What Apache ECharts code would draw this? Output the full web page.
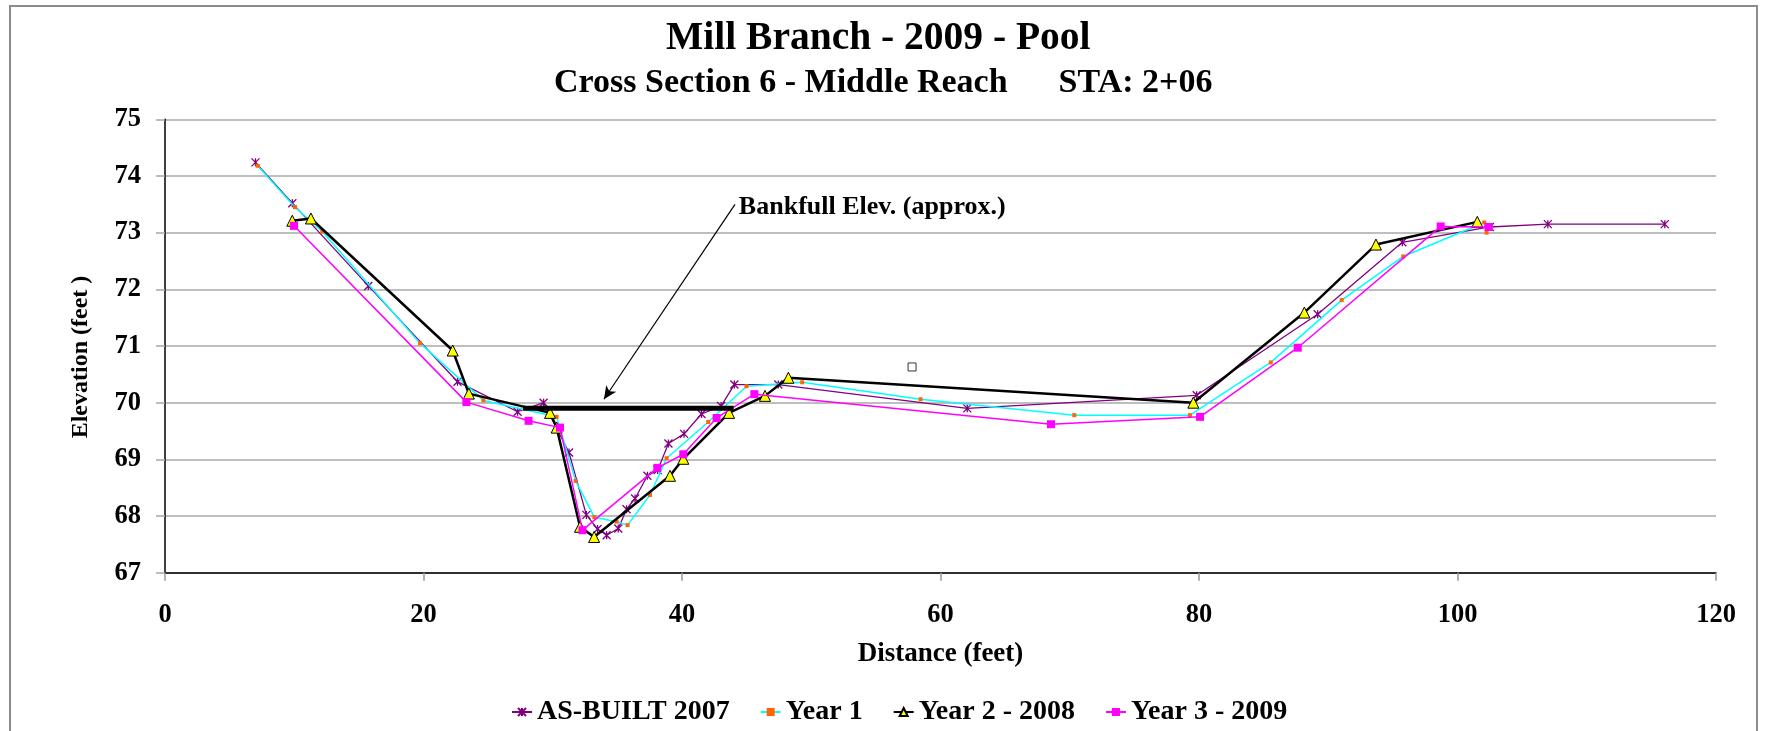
<!DOCTYPE html>
<html>
<head>
<meta charset="utf-8">
<script src="https://cdn.jsdelivr.net/npm/echarts@6/dist/echarts.min.js"></script>
<style>
html,body{margin:0;padding:0;background:#fff;}
#chart{width:1771px;height:731px;}
</style>
</head>
<body>
<div id="chart"></div>
<script>
// ---- data (distance ft, elevation ft) ----
var asBuilt2007 = [[7.0,74.24],[9.85,73.52],[15.73,72.06],[22.63,70.37],[27.28,69.84],[29.29,70.0],[31.26,69.12],[32.6,68.02],[33.47,67.77],[34.17,67.66],[35.07,67.78],[35.71,68.12],[36.37,68.31],[37.32,68.71],[38.12,68.81],[38.95,69.28],[40.16,69.45],[41.51,69.8],[43.02,69.94],[44.05,70.32],[47.45,70.32],[62.07,69.9],[79.82,70.13],[89.18,71.56],[95.73,72.83],[102.5,73.1],[106.99,73.15],[116.04,73.15]];
var year1 = [[7.17,74.18],[10.06,73.45],[12.17,73.02],[19.73,71.05],[24.63,70.04],[30.3,69.75],[31.77,68.62],[33.22,67.98],[34.94,67.9],[35.79,67.84],[37.52,68.37],[38.81,69.02],[42.03,69.66],[44.99,70.29],[49.3,70.36],[58.46,70.06],[70.35,69.78],[79.3,69.78],[85.55,70.71],[91.04,71.81],[95.8,72.58],[102.07,73.18],[102.25,73.0]];
var year2_2008 = [[9.85,73.21],[11.29,73.25],[22.26,70.92],[23.51,70.16],[29.79,69.82],[30.3,69.56],[32.11,67.81],[33.2,67.63],[39.07,68.71],[40.1,69.01],[43.64,69.82],[46.42,70.12],[48.23,70.44],[79.56,70.0],[88.15,71.59],[93.69,72.79],[101.53,73.19]];
var year3_2009 = [[9.98,73.12],[23.32,70.01],[28.13,69.68],[30.56,69.56],[32.3,67.75],[38.09,68.85],[40.1,69.09],[42.68,69.73],[45.6,70.15],[68.55,69.62],[80.08,69.75],[87.64,70.97],[98.7,73.11],[102.4,73.1]];
var bankfull = [[27.7,69.9],[44.0,69.9]];
var arrowFrom = [44.1,73.5];
var arrowTo = [33.96,70.06];
var labelAt = [44.4,73.45];
var glyphAt = [57.8,70.63];
var seriesNames = ['AS-BUILT 2007','Year 1','Year 2 - 2008','Year 3 - 2009'];
var xTicks = {min:0,max:120,interval:20};
var yTicks = {min:67,max:75,interval:1};

var SERIF = '"Liberation Serif","Times New Roman",serif';
var chart = echarts.init(document.getElementById('chart'), null, {renderer:'canvas'});
var option = {
  animation:false,
  backgroundColor:'#fff',
  title:[
    {text:'Mill Branch - 2009 - Pool', left:661, top:14,
     textStyle:{fontFamily:SERIF,fontWeight:'bold',fontSize:39.5,color:'#000'}},
    {text:'Cross Section 6 - Middle Reach      STA: 2+06', left:549, top:61,
     textStyle:{fontFamily:SERIF,fontWeight:'bold',fontSize:34,color:'#000'}}
  ],
  graphic:[{type:'rect',shape:{x:10,y:6,width:1747,height:740},
    style:{fill:'none',stroke:'#8c8c8c',lineWidth:2},silent:true}],
  grid:{left:165,right:55,top:119.3,bottom:158.3,containLabel:false},
  legend:{data:seriesNames,left:506,top:693,itemWidth:20,itemHeight:10,itemGap:30,
    textStyle:{fontFamily:SERIF,fontWeight:'bold',fontSize:28,color:'#000'}},
  xAxis:{type:'value',min:xTicks.min,max:xTicks.max,interval:xTicks.interval,
    name:'Distance (feet)',nameLocation:'middle',nameGap:68,
    nameTextStyle:{fontFamily:SERIF,fontWeight:'bold',fontSize:27,color:'#000'},
    axisLine:{show:true,onZero:false,lineStyle:{color:'#000',width:1.5}},
    axisTick:{show:true,length:8,lineStyle:{color:'#999',width:1.5}},
    axisLabel:{margin:29,fontFamily:SERIF,fontWeight:'bold',fontSize:26.5,color:'#000'},
    splitLine:{show:false}},
  yAxis:{type:'value',min:yTicks.min,max:yTicks.max,interval:yTicks.interval,
    name:'Elevation (feet )',nameLocation:'middle',nameGap:72,
    nameTextStyle:{fontFamily:SERIF,fontWeight:'bold',fontSize:24,color:'#000',padding:[0,0,0,-22]},
    axisLine:{show:true,onZero:false,lineStyle:{color:'#000',width:1.5}},
    axisTick:{show:true,length:9,lineStyle:{color:'#a6a6a6',width:1.5}},
    axisLabel:{margin:24,fontFamily:SERIF,fontWeight:'bold',fontSize:26.5,color:'#000'},
    splitLine:{show:true,lineStyle:{color:'#a9a9a9',width:1.5}}},
  series:[
    {name:seriesNames[0],type:'line',data:asBuilt2007,
     symbol:'path://M0,0L10,10M10,0L0,10M5,0L5,10',symbolSize:8,
     lineStyle:{color:'#800080',width:1.3},
     itemStyle:{color:'rgba(0,0,0,0)',borderColor:'#800080',borderWidth:1.3},z:2},
    {name:seriesNames[1],type:'line',data:year1,symbol:'rect',symbolSize:4,
     lineStyle:{color:'#00FFFF',width:1.5},
     itemStyle:{color:'#FF6600',borderWidth:0},z:3},
    {name:seriesNames[2],type:'line',data:year2_2008,symbol:'triangle',symbolSize:11,
     lineStyle:{color:'#000',width:2.5},
     itemStyle:{color:'#FFFF00',borderColor:'#000',borderWidth:1},z:4},
    {name:seriesNames[3],type:'line',data:year3_2009,symbol:'rect',symbolSize:8,
     lineStyle:{color:'#FF00FF',width:1.5},
     itemStyle:{color:'#FF00FF',borderWidth:0},z:5},
    {name:'bankfull',type:'line',data:bankfull,symbol:'none',
     lineStyle:{color:'#000',width:5},z:6,silent:true,
     markLine:{silent:true,symbol:['none','arrow'],symbolSize:[9,13],
       lineStyle:{color:'#000',width:1.2,type:'solid'},label:{show:false},
       data:[[{coord:arrowFrom},{coord:arrowTo}]]},
     markPoint:{silent:true,data:[
       {coord:labelAt,symbol:'circle',symbolSize:0,
        label:{show:true,position:'right',distance:0,formatter:'Bankfull Elev. (approx.)',
          fontFamily:SERIF,fontWeight:'bold',fontSize:26,color:'#000'}},
       {coord:glyphAt,symbol:'rect',symbolSize:8,
        itemStyle:{color:'#fff',borderColor:'#333',borderWidth:1},label:{show:false}}
     ]}}
  ]
};
chart.setOption(option);
</script>
</body>
</html>
